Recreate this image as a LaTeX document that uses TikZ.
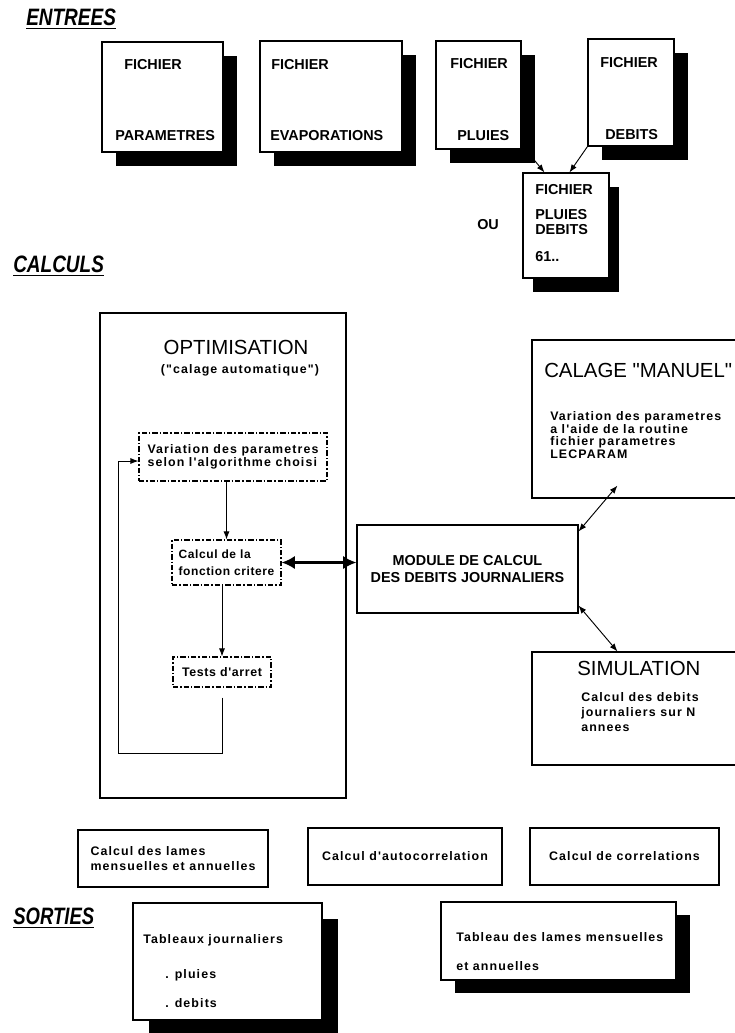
\documentclass[tikz,border=0pt]{standalone}
\usepackage{fontspec}
\setmainfont{Liberation Sans}
\newfontfamily\plainsans{Liberation Sans}
\newfontfamily\lsf[LetterSpace=9]{Liberation Sans}
\newfontfamily\lsn[LetterSpace=5]{Liberation Sans}
\usetikzlibrary{arrows.meta,calc,fit,shadows}
\begin{document}
\begin{tikzpicture}[x=0.75pt,y=-0.75pt,
  box/.style={draw,line width=0.8pt,fill=white,inner sep=0},
  sh/.style 2 args={drop shadow={fill=black,opacity=1,shadow xshift=#1,shadow yshift=-#2}},
  dd/.style={dash pattern=on 4pt off 1.5pt on 1pt off 1.5pt},
  head/.style={inner sep=0,anchor=west,font=\bfseries\itshape\fontsize{17.8}{20}\selectfont},
  capb/.style={inner sep=0,anchor=west,font=\bfseries\fontsize{10.8}{11.25}\selectfont},
  tit/.style={inner sep=0,font=\plainsans\fontsize{15.3}{18}\selectfont},
  sm/.style={inner sep=0,font=\lsf\bfseries\fontsize{9.3}{9.75}\selectfont},
  arr/.style={-{Latex[length=6pt,width=4.5pt]},line width=0.7pt},
  darr/.style={{Latex[length=6pt,width=4.5pt]}-{Latex[length=6pt,width=4.5pt]},line width=0.7pt},
  bigarr/.style={{Latex[length=10pt,width=10pt]}-{Latex[length=10pt,width=10pt]},line width=2.4pt}]
\useasboundingbox (0,0) rectangle (735,1033);

% ---------------- ENTREES ----------------
\node[head] (hentrees) at (26,19) {\scalebox{0.8}[1]{\underline{ENTREES}}};

\node[box,sh={10.5pt}{10.5pt},fit={(102,42) (223,152)}] (param) {};
\node[box,sh={10.5pt}{10.5pt},fit={(260,41) (402,152)}] (evap) {};
\node[box,sh={10.5pt}{10.5pt},fit={(436,41) (521,149)}] (pluies) {};
\node[box,sh={10.5pt}{10.5pt},fit={(588,39) (674,146)}] (debits) {};

\node[capb] (tparam1) at (124,65) {FICHIER};
\node[capb] (tparam2) at (115,136) {PARAMETRES};
\node[capb] (tevap1) at (271,65) {FICHIER};
\node[capb] (tevap2) at (270,136) {EVAPORATIONS};
\node[capb] (tpl1) at (450,64) {FICHIER};
\node[capb] (tpl2) at (457,136) {PLUIES};
\node[capb] (tdb1) at (600,63) {FICHIER};
\node[capb] (tdb2) at (605,135) {DEBITS};

\node[box,sh={7.5pt}{10.5pt},fit={(523,173) (609,278)}] (merged) {};
\node[capb,align=left] (tmerged) at (535,223.5) {FICHIER\\[7.5pt]PLUIES\\DEBITS\\[9pt]61..};
\node[capb] (ou) at (477,225) {OU};

\draw[arr] ($(pluies.south east)+(9,6)$) -- ($(merged.north west)+(22,0)$);
\draw[arr] (debits.south west) -- ($(merged.north west)+(47,0)$);

% ---------------- CALCULS ----------------
\node[head] (hcalculs) at (13,266) {\scalebox{0.8}[1]{\underline{CALCULS}}};

\node[box,fit={(100,313) (346,798)}] (optim) {};
\node[tit] (toptim) at (236,347) {OPTIMISATION};
\node[sm] (tauto) at (240,370) {("calage automatique")};

\node[box,dd,sm,align=left,minimum width=141pt,minimum height=36pt] (var) at (233,457)
  {Variation des parametres\\selon l'algorithme choisi};
\node[box,dd,sm,align=left,minimum width=81.75pt,minimum height=33.75pt,
  font=\lsn\bfseries\fontsize{9}{12.75}\selectfont] (calc) at (226.5,562.5)
  {Calcul de la\\fonction critere};
\node[box,dd,sm,minimum width=73.5pt,minimum height=22.5pt,
  font=\lsn\bfseries\fontsize{9.3}{9.75}\selectfont] (tests) at (222,672) {Tests d'arret};

\draw[arr] (calc.north |- var.south) -- (calc.north);
\draw[arr] (tests.north |- calc.south) -- (tests.north);
\coordinate (loopc) at (118,753);
\draw[arr] ($(tests.south)+(0,10)$) |- (loopc) |- ($(var.west)+(0,4)$);

\node[box,align=center,minimum width=165.75pt,minimum height=66pt,
  font=\bfseries\fontsize{10.8}{12.75}\selectfont] (module) at (467.5,569)
  {MODULE DE CALCUL\\DES DEBITS JOURNALIERS};

\draw[bigarr] (calc.east) -- (calc.east -| module.west);

\node[box,fit={(532,340) (745,498)}] (calage) {};
\node[tit,anchor=west] (tcalage) at (544,370) {CALAGE "MANUEL"};
\node[sm,anchor=west,align=left,font=\lsf\bfseries\fontsize{9.3}{9.4}\selectfont] (tcal2) at (550,435)
  {Variation des parametres\\a l'aide de la routine\\fichier parametres\\LECPARAM};

\node[box,fit={(532,652) (745,765)}] (simul) {};
\node[tit,anchor=west] (tsimul) at (577,668) {SIMULATION};
\node[sm,anchor=west,align=left,font=\lsf\bfseries\fontsize{9.3}{11.25}\selectfont] (tsim2) at (581,712)
  {Calcul des debits\\journaliers sur N\\annees};

\draw[darr] ($(module.north east)+(0,7)$) -- ($(calage.south west)+(86,-13)$);
\draw[darr] ($(module.south east)+(0,-8)$) -- ($(simul.north west)+(86,0)$);

% ---------------- bottom calculations ----------------
\node[box,sm,align=left,minimum width=142.5pt,minimum height=42.75pt,
  font=\lsf\bfseries\fontsize{9.3}{11.25}\selectfont] (lames) at (173,858.5)
  {Calcul des lames\\mensuelles et annuelles};
\node[box,sm,minimum width=145.5pt,minimum height=42.75pt] (autoc) at (405,856.5) {Calcul d'autocorrelation};
\node[box,sm,minimum width=141.75pt,minimum height=42.75pt] (correl) at (624.5,856.5) {Calcul de correlations};

% ---------------- SORTIES ----------------
\node[head] (hsorties) at (13,918) {\scalebox{0.78}[1]{\underline{SORTIES}}};

\node[box,sh={12pt}{12pt},fit={(133,903) (322,1020)}] (tabj) {};
\node[sm,anchor=west] (ttabj1) at (143,940) {Tableaux journaliers};
\node[sm,anchor=west] (ttabj2) at (165,975) {. pluies};
\node[sm,anchor=west] (ttabj3) at (165,1003) {. debits};

\node[box,sh={10.5pt}{10pt},fit={(441,902) (676,980)}] (tabl) {};
\node[sm,anchor=west] (ttabl1) at (456,937) {Tableau des lames mensuelles};
\node[sm,anchor=west] (ttabl2) at (456,966) {et annuelles};
\end{tikzpicture}
\end{document}
